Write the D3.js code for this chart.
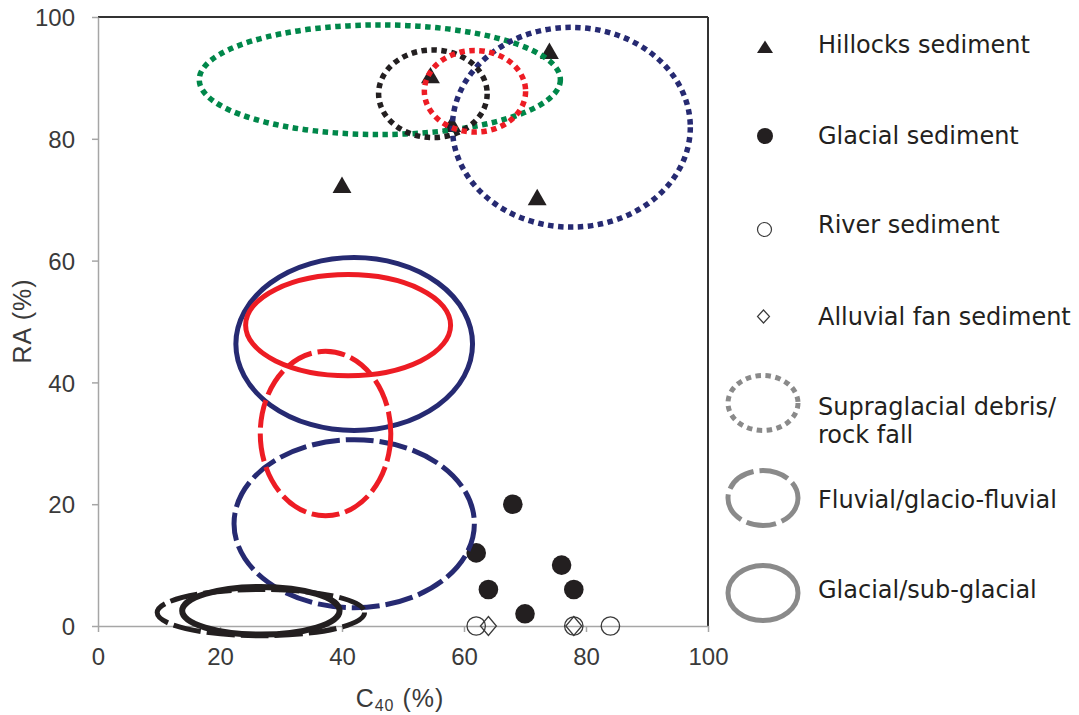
<!DOCTYPE html>
<html>
<head>
<meta charset="utf-8">
<script src="https://cdn.jsdelivr.net/npm/d3@7"></script>
<style>
  body { margin: 0; background: #fff; }
  svg { display: block; }
  .tick text { font-family: "Liberation Sans", Arial, sans-serif; font-size: 24px; fill: #3a3a3a; }
  .legend text { font-family: "DejaVu Sans", Verdana, sans-serif; font-size: 24px; fill: #231f20; }
</style>
</head>
<body>
<div id="chart"></div>
<script>
// axis ticks
const xTicks = [0, 20, 40, 60, 80, 100];
const yTicks = [0, 20, 40, 60, 80, 100];

// sample points (C40 %, RA %)
const hillocksC40 = [40, 54.5, 74, 72, 58];
const hillocksRA = [72, 90, 94, 70, 82];
const glacialC40 = [68, 62, 64, 70, 76, 78];
const glacialRA = [20, 12, 6, 2, 10, 6];
const riverC40 = [62, 78, 84];
const riverRA = [0, 0, 0];
const alluvialC40 = [64, 78];
const alluvialRA = [0, 0];

// envelopes: centre and half-widths in data units
const envType = ['dotted', 'dotted', 'dotted', 'dotted', 'solid', 'solid', 'dashed', 'dashed', 'dashed', 'solid'];
const envGroup = ['green', 'navy', 'black', 'red', 'navy', 'red', 'navy', 'red', 'black', 'black'];
const envC40 = [46.2, 77.6, 54.9, 61.8, 42.0, 41.0, 42.0, 37.3, 26.7, 26.7];
const envRA = [89.7, 81.9, 87.4, 87.8, 46.3, 49.4, 16.8, 31.6, 2.2, 2.5];
const envC40Half = [29.6, 19.5, 8.9, 8.3, 19.4, 16.8, 19.7, 10.7, 17.0, 12.9];
const envRAHalf = [9.0, 16.4, 7.2, 6.7, 14.2, 8.3, 13.8, 13.5, 3.8, 3.9];

const legendLabels = ['Hillocks sediment', 'Glacial sediment', 'River sediment', 'Alluvial fan sediment'];

const colors = { green: '#00874a', navy: '#262a72', black: '#231f20', red: '#ed1c24' };
const dashes = { dotted: '5.5,4.5', dashed: '28,6', solid: null };

const W = 1079, H = 715;
const margin = { top: 17, right: 371, bottom: 89, left: 98 };
const width = W - margin.left - margin.right;
const height = H - margin.top - margin.bottom;

const x = d3.scaleLinear().domain([0, 100]).range([0, width]);
const y = d3.scaleLinear().domain([0, 100]).range([height, 0]);

const svg = d3.select('#chart').append('svg')
  .attr('width', W)
  .attr('height', H);

const g = svg.append('g')
  .attr('transform', `translate(${margin.left},${margin.top})`);

// frame: top and right dark, left and bottom grey
g.append('line').attr('x1', 0).attr('x2', width).attr('y1', 0).attr('y2', 0)
  .attr('stroke', '#333').attr('stroke-width', 2);
g.append('line').attr('x1', width).attr('x2', width).attr('y1', 0).attr('y2', height)
  .attr('stroke', '#333').attr('stroke-width', 2);

const xAxis = g.append('g')
  .attr('transform', `translate(0,${height})`)
  .call(d3.axisBottom(x).tickValues(xTicks).tickSize(6).tickSizeOuter(0).tickPadding(16));
const yAxis = g.append('g')
  .call(d3.axisLeft(y).tickValues(yTicks).tickSize(6).tickSizeOuter(0).tickPadding(17));
[xAxis, yAxis].forEach(a => {
  a.select('.domain').attr('stroke', '#a6a6a6').attr('stroke-width', 1.5);
  a.selectAll('.tick line').attr('stroke', '#a6a6a6').attr('stroke-width', 1.5);
});
yAxis.selectAll('.tick text').attr('dy', '0.36em');

// axis titles
const title = svg.append('text')
  .attr('x', 400).attr('y', 707)
  .attr('text-anchor', 'middle')
  .style('font-family', '"Liberation Sans", Arial, sans-serif')
  .style('font-size', '25px').style('letter-spacing', '1px').style('fill', '#3a3a3a');
title.append('tspan').text('C');
title.append('tspan').attr('dy', 4).style('font-size', '16px').text('40');
title.append('tspan').attr('dy', -4).text(' (%)');

svg.append('text')
  .attr('transform', 'translate(31,321) rotate(-90)')
  .attr('text-anchor', 'middle')
  .style('font-family', '"Liberation Sans", Arial, sans-serif')
  .style('font-size', '25px').style('letter-spacing', '1px').style('fill', '#3a3a3a')
  .text('RA (%)');

const ink = '#231f20';
const diamond = (hw, hh) => `M0,${-hh}L${hw},0L0,${hh}L${-hw},0Z`;

// points
g.selectAll('.hillocks').data(d3.zip(hillocksC40, hillocksRA)).enter().append('path')
  .attr('transform', d => `translate(${x(d[0])},${y(d[1])})`)
  .attr('d', d3.symbol(d3.symbolTriangle, 155))
  .attr('fill', ink);

g.selectAll('.glacial').data(d3.zip(glacialC40, glacialRA)).enter().append('circle')
  .attr('cx', d => x(d[0])).attr('cy', d => y(d[1])).attr('r', 9.8)
  .attr('fill', ink);

g.selectAll('.river').data(d3.zip(riverC40, riverRA)).enter().append('circle')
  .attr('cx', d => x(d[0])).attr('cy', d => y(d[1])).attr('r', 9.2)
  .attr('fill', 'none').attr('stroke', '#3a3a3a').attr('stroke-width', 1.3);

g.selectAll('.alluvial').data(d3.zip(alluvialC40, alluvialRA)).enter().append('path')
  .attr('transform', d => `translate(${x(d[0])},${y(d[1])})`)
  .attr('d', diamond(8, 9.5))
  .attr('fill', 'none').attr('stroke', '#3a3a3a').attr('stroke-width', 1.3);

// envelopes
g.selectAll('.env').data(d3.range(envType.length)).enter().append('ellipse')
  .attr('cx', i => x(envC40[i]))
  .attr('cy', i => y(envRA[i]))
  .attr('rx', i => x(envC40Half[i]) - x(0))
  .attr('ry', i => y(0) - y(envRAHalf[i]))
  .attr('fill', 'none')
  .attr('stroke', i => colors[envGroup[i]])
  .attr('stroke-width', i => envGroup[i] === 'black' && envType[i] === 'solid' ? 6 : (envType[i] === 'dotted' ? 5.5 : 5))
  .attr('stroke-dasharray', i => dashes[envType[i]]);

// legend
const legend = svg.append('g').attr('class', 'legend');
const markerY = [47, 136, 229.5, 316.5];
const textY = [53, 144, 233, 325];
legend.append('path').attr('transform', `translate(765,${markerY[0]})`)
  .attr('d', 'M0,-6.5L8,6L-8,6Z').attr('fill', ink);
legend.append('circle').attr('cx', 765).attr('cy', markerY[1]).attr('r', 8).attr('fill', ink);
legend.append('circle').attr('cx', 764.5).attr('cy', markerY[2]).attr('r', 7)
  .attr('fill', 'none').attr('stroke', '#3a3a3a').attr('stroke-width', 1.2);
legend.append('path').attr('transform', `translate(763.5,${markerY[3]})`)
  .attr('d', diamond(6, 6.5)).attr('fill', 'none').attr('stroke', '#3a3a3a').attr('stroke-width', 1.2);
legendLabels.forEach((t, i) => {
  legend.append('text').attr('x', 818).attr('y', textY[i]).text(t);
});

const envLegend = [
  { type: 'dotted', cy: 403, lines: ['Supraglacial debris/', 'rock fall'], ty: 415 },
  { type: 'dashed', cy: 498, lines: ['Fluvial/glacio-fluvial'], ty: 508 },
  { type: 'solid', cy: 593, lines: ['Glacial/sub-glacial'], ty: 598 }
];
envLegend.forEach(e => {
  legend.append('ellipse').attr('cx', 763).attr('cy', e.cy).attr('rx', 35).attr('ry', 27.5)
    .attr('fill', 'none').attr('stroke', '#8a8a8a').attr('stroke-width', 5)
    .attr('stroke-dasharray', e.type === 'dashed' ? '30,6' : dashes[e.type]);
  e.lines.forEach((l, j) => {
    legend.append('text').attr('x', 818).attr('y', e.ty + j * 28).text(l);
  });
});
</script>
</body>
</html>
